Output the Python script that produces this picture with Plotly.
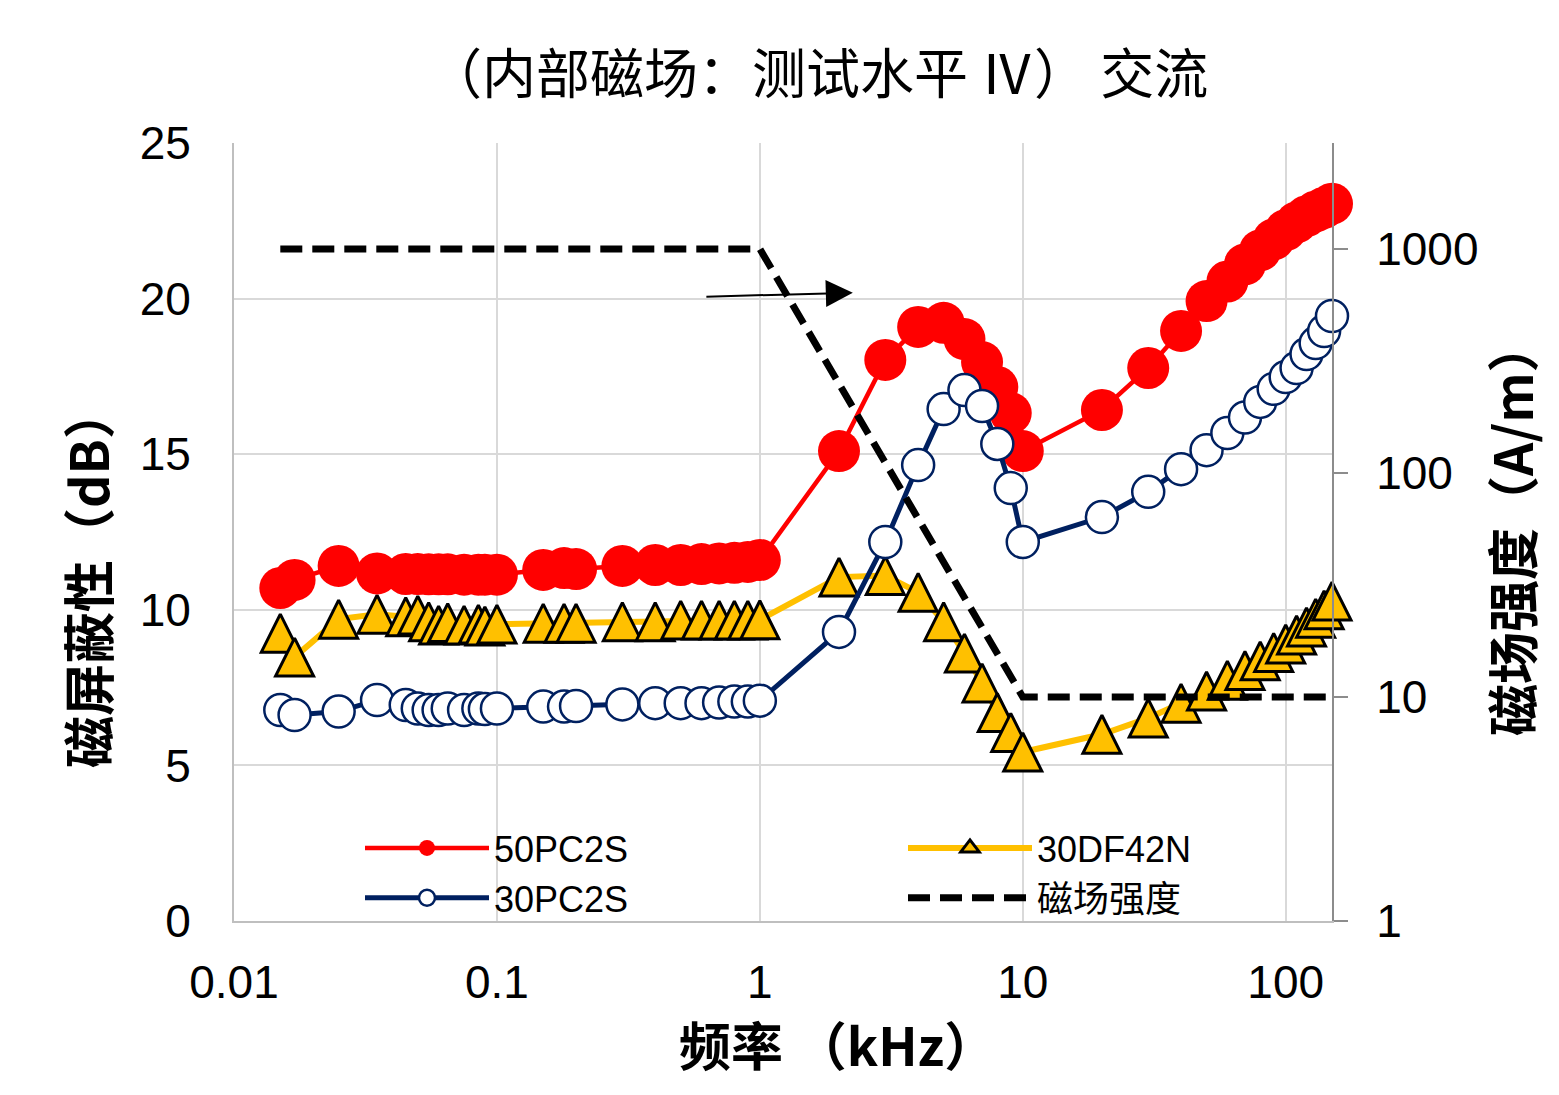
import plotly.graph_objects as go
import math

# ---------------- data ----------------
freq_khz = [0.015, 0.017, 0.025, 0.035, 0.045, 0.05, 0.055, 0.06, 0.065, 0.075, 0.085, 0.09, 0.1,
            0.15, 0.18, 0.2, 0.3, 0.4, 0.5, 0.6, 0.7, 0.8, 0.9, 1,
            2, 3, 4, 5, 6, 7, 8, 9, 10,
            20, 30, 40, 50, 60, 70, 80, 90, 100, 110, 120, 130, 140, 150]

s50pc2s = [10.7, 10.96, 11.41, 11.17, 11.15, 11.15, 11.14, 11.14, 11.14, 11.13, 11.13, 11.13, 11.13,
           11.28, 11.34, 11.31, 11.41, 11.44, 11.44, 11.47, 11.49, 11.51, 11.54, 11.6,
           15.1, 18.03, 19.09, 19.22, 18.7, 17.96, 17.16, 16.32, 15.1,
           16.42, 17.77, 18.96, 19.92, 20.55, 21.1, 21.55, 21.9, 22.2, 22.45, 22.65, 22.8, 22.92, 23.05]

s30pc2s = [6.78, 6.62, 6.73, 7.1, 6.94, 6.83, 6.78, 6.78, 6.83, 6.78, 6.83, 6.81, 6.83,
           6.89, 6.89, 6.91, 6.96, 7.0, 7.0, 7.0, 7.02, 7.05, 7.05, 7.08,
           9.29, 12.18, 14.65, 16.45, 17.06, 16.55, 15.33, 13.91, 12.18,
           12.98, 13.79, 14.52, 15.13, 15.68, 16.18, 16.68, 17.1, 17.48, 17.77, 18.22, 18.57, 18.96, 19.44]

s30df42n = [9.25, 8.48, 9.7, 9.86, 9.78, 9.83, 9.62, 9.51, 9.59, 9.51, 9.54, 9.48, 9.54,
            9.57, 9.57, 9.57, 9.62, 9.62, 9.67, 9.67, 9.67, 9.67, 9.67, 9.68,
            11.05, 11.1, 10.56, 9.62, 8.61, 7.65, 6.7, 6.06, 5.43,
            6.0, 6.52, 7.0, 7.39, 7.74, 8.05, 8.36, 8.63, 8.9, 9.19, 9.45, 9.73, 10.0, 10.28]

field_freq_khz = [0.015, 1, 10, 150]
field_strength = [1000, 1000, 10, 10]

x_ticks = [0.01, 0.1, 1, 10, 100]
x_ticktext = ["0.01", "0.1", "1", "10", "100"]
y_ticks = [0, 5, 10, 15, 20, 25]
y2_ticks = [1, 10, 100, 1000]
y2_ticktext = ["1", "10", "100", "1000"]

# ---------------- figure ----------------
FONT = "Liberation Sans, Noto Sans CJK SC, sans-serif"
CJK = "Noto Sans CJK SC, Liberation Sans, sans-serif"

OFF = 8  # page body margin
W, H = 1559, 1095
L, R, T, B = 234 - OFF, 1332 - OFF, 143 - OFF, 921 - OFF


def px_x(p):
    return (p - OFF - L) / (R - L)


def px_y(p):
    return (B - (p - OFF)) / (B - T)


fig = go.Figure()

fig.add_trace(go.Scatter(
    x=freq_khz, y=s30df42n, name="30DF42N", mode="lines+markers",
    line=dict(color="#FFC000", width=6),
    marker=dict(symbol="arrow-down", angle=180, standoff=19, size=38,
                color="#FFC000", line=dict(color="black", width=3)),
    showlegend=False, cliponaxis=False,
))
fig.add_trace(go.Scatter(
    x=freq_khz, y=s50pc2s, name="50PC2S", mode="lines+markers",
    line=dict(color="#FF0000", width=4.5),
    marker=dict(symbol="circle", size=42, color="#FF0000", line=dict(width=0)),
    legend="legend", legendrank=1, cliponaxis=False,
))
fig.add_trace(go.Scatter(
    x=freq_khz, y=s30pc2s, name="30PC2S", mode="lines+markers",
    line=dict(color="#002060", width=5),
    marker=dict(symbol="circle", size=32, color="white", line=dict(color="#002060", width=2.5)),
    legend="legend", legendrank=2, cliponaxis=False,
))
# legend entry for the triangle series (same style, no points of its own)
fig.add_trace(go.Scatter(
    x=[None], y=[None], name="30DF42N", mode="lines+markers",
    line=dict(color="#FFC000", width=6),
    marker=dict(symbol="triangle-up", size=20, color="#FFC000", line=dict(color="black", width=3)),
    legend="legend2", legendrank=1,
))
fig.add_trace(go.Scatter(
    x=field_freq_khz, y=field_strength, name="磁场强度", mode="lines",
    line=dict(color="black", width=7, dash="22px,10px"),
    yaxis="y2", legend="legend2", legendrank=2, cliponaxis=False,
))

fig.update_layout(
    width=W, height=H,
    margin=dict(l=L, r=W - R, t=T, b=H - B, pad=0, autoexpand=False),
    paper_bgcolor="white", plot_bgcolor="white",
    font=dict(family=FONT, size=46, color="black"),
    showlegend=True,
    xaxis=dict(
        type="log", range=[-2, math.log10(150)],
        tickvals=x_ticks, ticktext=x_ticktext,
        showgrid=True, gridcolor="#d9d9d9", gridwidth=2,
        showline=True, linecolor="#bfbfbf", linewidth=2,
        ticks="", ticklabelstandoff=20, zeroline=False,
        tickfont=dict(family=FONT, size=46),
    ),
    yaxis=dict(
        range=[0, 25], tickvals=y_ticks,
        showgrid=True, gridcolor="#d9d9d9", gridwidth=2,
        showline=True, linecolor="#bfbfbf", linewidth=2,
        ticks="", ticklabelstandoff=32, zeroline=False,
        tickfont=dict(family=FONT, size=46),
    ),
    yaxis2=dict(
        type="log", range=[0, 3.473], overlaying="y", side="right",
        tickvals=y2_ticks, ticktext=y2_ticktext,
        showgrid=False, showline=True, linecolor="#8c8c8c", linewidth=2,
        ticks="outside", ticklen=14, tickwidth=2, tickcolor="#8c8c8c",
        ticklabelstandoff=19, zeroline=False,
        tickfont=dict(family=FONT, size=46),
    ),
    legend=dict(
        x=px_x(360), y=px_y(873), xanchor="left", yanchor="middle",
        bgcolor="rgba(0,0,0,0)", font=dict(family=FONT, size=36),
        itemwidth=124, tracegroupgap=0, traceorder="normal",
    ),
    legend2=dict(
        x=px_x(903), y=px_y(873), xanchor="left", yanchor="middle",
        bgcolor="rgba(0,0,0,0)", font=dict(family=FONT, size=36),
        itemwidth=124, tracegroupgap=0, traceorder="normal",
    ),
    annotations=[
        dict(text="（内部磁场：测试水平 Ⅳ） 交流", xref="paper", yref="paper",
             x=px_x(818), y=px_y(70), xanchor="center", yanchor="middle",
             showarrow=False, font=dict(family=CJK, size=54)),
        dict(text="<b>磁屏蔽性（dB）</b>", xref="paper", yref="paper",
             x=px_x(86), y=px_y(578), xanchor="center", yanchor="middle",
             textangle=-90, showarrow=False, font=dict(family=CJK, size=52)),
        dict(text="<b>磁场强度（A/m）</b>", xref="paper", yref="paper",
             x=px_x(1510), y=px_y(528), xanchor="center", yanchor="middle",
             textangle=-90, showarrow=False, font=dict(family=CJK, size=52)),
        dict(text="<b>频率 （kHz）</b>", xref="paper", yref="paper",
             x=px_x(837), y=px_y(1043), xanchor="center", yanchor="middle",
             showarrow=False, font=dict(family=CJK, size=52)),
        dict(x=0.3536, y=20.19, ax=-0.2091, ay=20.06, xref="x", yref="y",
             axref="x", ayref="y", text="", showarrow=True,
             arrowhead=2, arrowsize=2.7, arrowwidth=2, arrowcolor="black"),
    ],
)

fig.write_html("out.html")
